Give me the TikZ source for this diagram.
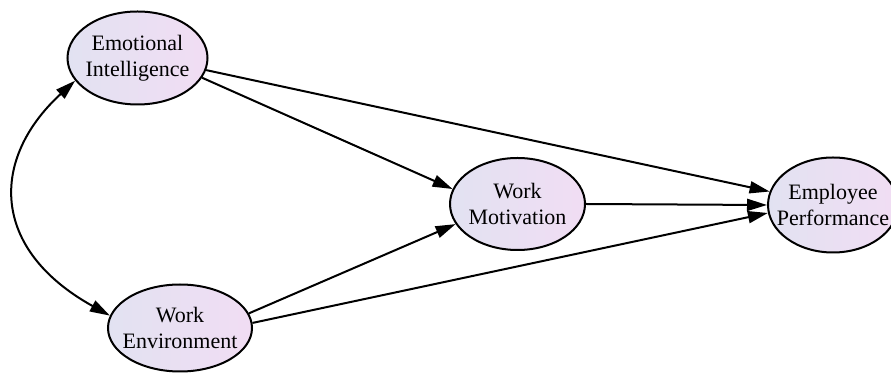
\documentclass[tikz,border=0pt]{standalone}
\usepackage{fontspec}
\setmainfont{Liberation Serif}
\usepackage{tikz}
\usetikzlibrary{arrows.meta}
\usetikzlibrary{shapes,positioning,calc}
\definecolor{ellleft}{RGB}{226,226,242}
\definecolor{ellright}{RGB}{241,221,243}

\begin{document}
\begin{tikzpicture}[x=1pt, y=1pt,
		latent/.style={ellipse, draw, line width=2pt, left color=ellleft, right color=ellright, inner xsep=-25pt, inner ysep=-12pt, align=center, font=\fontsize{22}{26}\selectfont},
		path/.style={line width=2pt, -{Triangle[length=20pt,width=12pt]}}]
			\useasboundingbox (0,0) rectangle (891,374);
			% variables
			\node[latent, minimum width=140pt, minimum height=93pt] (ei) at (137.5,316) {Emotional\\Intelligence};
			\node[latent, minimum width=135pt, minimum height=92pt] (wm) at (517.5,170) {Work\\Motivation};
			\node[latent, minimum width=130pt, minimum height=95pt] (ep) at (833,169) {Employee\\Performance};
			\node[latent, minimum width=144pt, minimum height=87pt] (we) at (180,46) {Work\\Environment};
			% paths
			\draw[path] (ei.-17) -- (wm.167);
			\draw[path] (ei.-10) -- (ep.168);
			\draw[path] (wm.east) -- (ep.west);
			\draw[path] (we.12) -- (wm.198);
			\draw[path] (we.4) -- (ep.187);
			\draw[path, {Triangle[length=20pt,width=12pt]}-{Triangle[length=20pt,width=12pt]}] (ei.200) .. controls (-10,215) and (-10,125) .. (we.170);
		\end{tikzpicture}
\end{document}
